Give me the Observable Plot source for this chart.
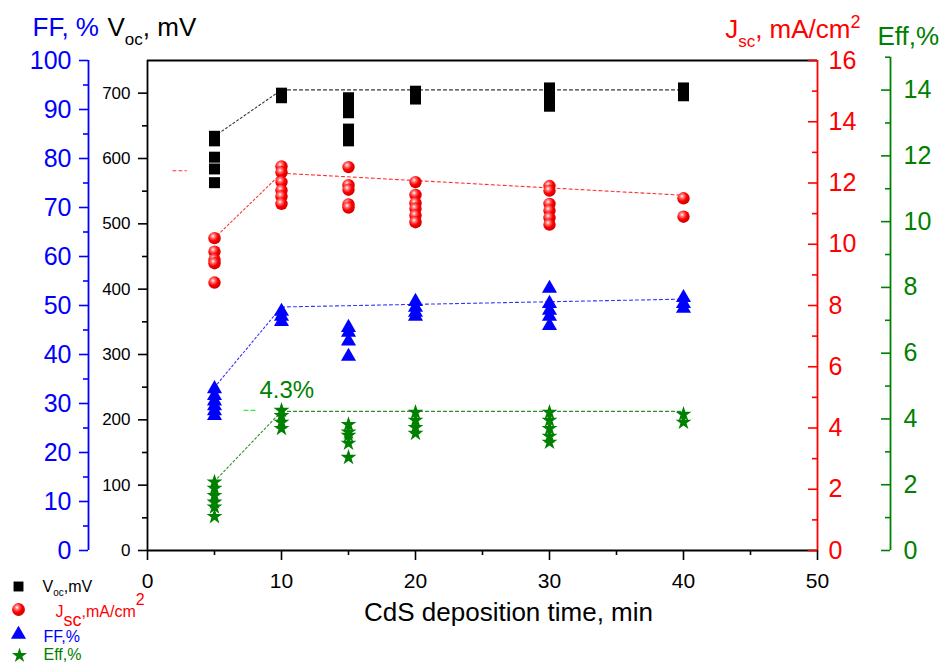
<!DOCTYPE html>
<html>
<head>
<meta charset="utf-8">
<script src="https://cdn.jsdelivr.net/npm/d3@7"></script>
<script src="https://cdn.jsdelivr.net/npm/@observablehq/plot@0.6"></script>
<style>
  html, body { margin: 0; padding: 0; background: #fff; }
  #chart svg { display: block; }
</style>
</head>
<body>
<div id="chart"></div>
<script>
// ---------------- data ----------------
const times = [5, 10, 15, 20, 30, 40];
const vocByTime = [
  [634, 627, 602, 584, 563],
  [700, 696, 693],
  [693, 686, 678, 670, 645, 636, 627],
  [703, 697, 691],
  [708, 703, 697, 690, 680],
  [708, 701, 696]
];
const jscByTime = [
  [10.2, 9.76, 9.5, 9.38, 8.75],
  [12.54, 12.35, 12.03, 11.76, 11.56, 11.32],
  [12.52, 11.93, 11.78, 11.3, 11.2],
  [12.03, 11.61, 11.34, 11.16, 10.94, 10.72],
  [11.9, 11.75, 11.32, 11.1, 10.86, 10.64],
  [11.5, 10.9]
];
const ffByTime = [
  [33, 31.6, 30.5, 29.5, 28.5, 27.5],
  [48.8, 47.8, 46.7],
  [45.5, 44.5, 42.7, 39.6],
  [50.8, 49.6, 48.6, 47.8],
  [53.5, 50.4, 49, 47.8, 45.9],
  [51.6, 50.4, 49.4]
];
const effByTime = [
  [2.08, 1.89, 1.67, 1.47, 1.32, 1.03],
  [4.26, 4.1, 3.9, 3.71],
  [3.83, 3.6, 3.5, 3.26, 2.83],
  [4.2, 3.96, 3.74, 3.56],
  [4.2, 3.96, 3.71, 3.47, 3.29],
  [4.14, 3.9]
];
const trendTimes = [5, 10, 40];
const vocTrend = [634, 705, 705];
const jscTrend = [10.2, 12.32, 11.6];
const ffTrend = [33.3, 49.7, 51.3];
const effTrend = [2.1, 4.23, 4.23];
const jscStub = [[1.9, 12.4], [2.9, 12.4]];
const effStub = [[7.2, 4.26], [8.1, 4.26]];

const xTicks = [0, 10, 20, 30, 40, 50];
const xMinor = [5, 15, 25, 35, 45];
const vocTicks = [0, 100, 200, 300, 400, 500, 600, 700];
const vocMinor = [50, 150, 250, 350, 450, 550, 650];
const ffTicks = [0, 10, 20, 30, 40, 50, 60, 70, 80, 90, 100];
const ffMinor = [5, 15, 25, 35, 45, 55, 65, 75, 85, 95];
const jscTicks = [0, 2, 4, 6, 8, 10, 12, 14, 16];
const jscMinor = [1, 3, 5, 7, 9, 11, 13, 15];
const effTicks = [0, 2, 4, 6, 8, 10, 12, 14];
const effMinor = [1, 3, 5, 7, 9, 11, 13, 15];

const X_MAX = 50, VOC_MAX = 750, FF_MAX = 100, JSC_MAX = 16, EFF_MAX = 14.9;
const kFF = VOC_MAX / FF_MAX, kJ = VOC_MAX / JSC_MAX, kE = VOC_MAX / EFF_MAX;

const BLUE = "#0000ff", RED = "#ff0000", GREEN = "#008000", BLACK = "#000";

const flat = (groups) => groups.flatMap((vals, i) => vals.map(v => ({t: times[i], v})));
const trend = (vals) => vals.map((v, i) => ({t: trendTimes[i], v}));
const vocPts = flat(vocByTime), jscPts = flat(jscByTime), ffPts = flat(ffByTime), effPts = flat(effByTime);
const effMaxPt = effPts.reduce((a, b) => (b.v > a.v ? b : a));

// ---------------- axis helpers ----------------
function vAxis({xv, dx, color, k, ticks, minor, top, dir, labelDx, anchor, fontSize}) {
  const len = 9, mlen = 5;
  const ins = (l) => dir < 0 ? {insetLeft: -l} : {insetRight: -l};
  return [
    Plot.ruleX([xv], {y1: 0, y2: top * k, dx, stroke: color, strokeWidth: 1.8}),
    Plot.ruleY(ticks, {y: d => d * k, x1: xv, x2: xv, dx, stroke: color, strokeWidth: 1.6, ...ins(len)}),
    Plot.ruleY(minor, {y: d => d * k, x1: xv, x2: xv, dx, stroke: color, strokeWidth: 1.6, ...ins(mlen)}),
    Plot.text(ticks, {y: d => d * k, x: xv, text: d => String(d), dx: dx + labelDx, textAnchor: anchor,
      lineAnchor: "middle", fill: color, fontSize})
  ];
}

const dashLine = (data, k, color, dash) =>
  Plot.line(data, {x: "t", y: d => d.v * k, stroke: color, strokeWidth: 1.1, strokeDasharray: dash});

const chart = Plot.plot({
  width: 941,
  height: 662,
  marginLeft: 147,
  marginRight: 124,
  marginTop: 60,
  marginBottom: 112,
  x: {domain: [0, X_MAX], axis: null},
  y: {domain: [0, VOC_MAX], axis: null},
  style: {fontFamily: "'Liberation Sans', Arial, sans-serif", fontSize: "16px", background: "#fff", color: "#000", overflow: "visible"},
  marks: [
    // frame top & bottom
    Plot.ruleY([VOC_MAX], {stroke: BLACK, strokeWidth: 1.8}),
    Plot.ruleY([0], {stroke: BLACK, strokeWidth: 1.8}),
    // x axis ticks & labels
    Plot.ruleX(xTicks, {x: d => d, y1: 0, y2: 0, insetBottom: -10, stroke: BLACK, strokeWidth: 1.6}),
    Plot.ruleX(xMinor, {x: d => d, y1: 0, y2: 0, insetBottom: -5, stroke: BLACK, strokeWidth: 1.6}),
    Plot.text(xTicks, {x: d => d, y: 0, text: d => String(d), dy: 31, lineAnchor: "middle", fontSize: 21, fill: BLACK}),
    Plot.text(["CdS deposition time, min"], {frameAnchor: "bottom", dx: 26, dy: 70, lineAnchor: "bottom", fontSize: 26, fill: BLACK}),
    // Voc axis (left, black)
    ...vAxis({xv: 0, dx: 0, color: BLACK, k: 1, ticks: vocTicks, minor: vocMinor, top: VOC_MAX, dir: -1, labelDx: -17, anchor: "end", fontSize: 17}),
    // FF axis (outer left, blue)
    ...vAxis({xv: 0, dx: -59, color: BLUE, k: kFF, ticks: ffTicks, minor: ffMinor, top: FF_MAX, dir: -1, labelDx: -17, anchor: "end", fontSize: 25}),
    // Jsc axis (right, red), inward ticks
    ...vAxis({xv: X_MAX, dx: 0, color: RED, k: kJ, ticks: jscTicks, minor: jscMinor, top: JSC_MAX, dir: -1, labelDx: 11, anchor: "start", fontSize: 25}),
    // Eff axis (outer right, green), inward ticks
    ...vAxis({xv: X_MAX, dx: 73, color: GREEN, k: kE, ticks: effTicks, minor: effMinor, top: 15, dir: -1, labelDx: 13, anchor: "start", fontSize: 25}),

    // trend lines
    dashLine(trend(vocTrend).slice(0, 2), 1, "#333", "2,2.5"),
    dashLine(trend(vocTrend).slice(1), 1, "#333", "3,3"),
    dashLine(trend(jscTrend).slice(0, 2), kJ, "#ff3030", "2,2.5"),
    dashLine(trend(jscTrend).slice(1), kJ, "#ff3030", "3,3"),
    dashLine(trend(ffTrend).slice(0, 2), kFF, "#3333ff", "2,2.5"),
    dashLine(trend(ffTrend).slice(1), kFF, "#3333ff", "3,3"),
    dashLine(trend(effTrend).slice(0, 2), kE, "#2e8b2e", "2,2.5"),
    dashLine(trend(effTrend).slice(1), kE, "#2e8b2e", "3,3"),
    Plot.line(jscStub, {x: d => d[0], y: d => d[1] * kJ, stroke: "#ff3030", strokeWidth: 1.1, strokeDasharray: "3,3"}),
    Plot.line(effStub, {x: d => d[0], y: d => d[1] * kE, stroke: "#33ee33", strokeWidth: 1.1, strokeDasharray: "4,3"}),

    // data points
    Plot.dot(vocPts, {x: "t", y: "v", symbol: "square", r: 6.2, fill: BLACK}),
    Plot.dot(jscPts, {x: "t", y: d => d.v * kJ, symbol: "circle", r: 6.2, fill: RED, className: "jsc-ball"}),
    Plot.dot(ffPts, {x: "t", y: d => d.v * kFF, symbol: "triangle", r: 5.6, fill: BLUE}),
    Plot.dot(effPts, {x: "t", y: d => d.v * kE, symbol: "star", r: 5, fill: GREEN}),

    // max efficiency annotation
    Plot.text([effMaxPt], {x: "t", y: d => d.v * kE, text: d => d3.format(".1f")(d.v) + "%", dx: -22, dy: -12,
      textAnchor: "start", lineAnchor: "bottom", fill: GREEN, fontSize: 24}),

    // top axis titles
    Plot.text(["FF, %"], {frameAnchor: "top-left", dx: -115, dy: -25, textAnchor: "start", lineAnchor: "bottom", fill: BLUE, fontSize: 26}),
    Plot.text(["V_{oc}, mV"], {frameAnchor: "top-left", dx: -40, dy: -25, textAnchor: "start", lineAnchor: "bottom", fill: BLACK, fontSize: 26, className: "rt-top"}),
    Plot.text(["J_{sc}, mA/cm^{2}"], {frameAnchor: "top-right", dx: 43, dy: -23, textAnchor: "end", lineAnchor: "bottom", fill: RED, fontSize: 26, className: "rt-top"}),
    Plot.text(["Eff,%"], {frameAnchor: "top-right", dx: 60, dy: -16, textAnchor: "start", lineAnchor: "bottom", fill: GREEN, fontSize: 26}),

    // legend (bottom-left)
    Plot.dot([0], {frameAnchor: "bottom-left", dx: -129, dy: 36, symbol: "square", r: 5.6, fill: BLACK}),
    Plot.dot([0], {frameAnchor: "bottom-left", dx: -129, dy: 59, symbol: "circle", r: 6.4, fill: RED, className: "jsc-ball"}),
    Plot.dot([0], {frameAnchor: "bottom-left", dx: -129, dy: 84, symbol: "triangle", r: 5.6, fill: BLUE}),
    Plot.dot([0], {frameAnchor: "bottom-left", dx: -128, dy: 105, symbol: "star", r: 4.8, fill: GREEN}),
    Plot.text(["V_{oc},mV"], {frameAnchor: "bottom-left", dx: -105, dy: 41, textAnchor: "start", lineAnchor: "bottom", fill: BLACK, fontSize: 16, className: "rt-leg"}),
    Plot.text(["J_{sc},mA/cm^{2}"], {frameAnchor: "bottom-left", dx: -92, dy: 66, textAnchor: "start", lineAnchor: "bottom", fill: RED, fontSize: 16, className: "rt-legj"}),
    Plot.text(["FF,%"], {frameAnchor: "bottom-left", dx: -104, dy: 91, textAnchor: "start", lineAnchor: "bottom", fill: BLUE, fontSize: 16}),
    Plot.text(["Eff,%"], {frameAnchor: "bottom-left", dx: -104, dy: 109, textAnchor: "start", lineAnchor: "bottom", fill: GREEN, fontSize: 16})
  ]
});

document.getElementById("chart").appendChild(chart);

// ---------- post-processing: gradient balls and sub/superscripts ----------
const svg = d3.select(chart);
svg.insert("defs", ":first-child").html(
  '<radialGradient id="ball" cx="0.38" cy="0.34" r="0.7">' +
  '<stop offset="0" stop-color="#ffffff"/>' +
  '<stop offset="0.22" stop-color="#ff7a7a"/>' +
  '<stop offset="0.55" stop-color="#ff0000"/>' +
  '<stop offset="1" stop-color="#c80000"/>' +
  '</radialGradient>'
);
svg.selectAll("g.jsc-ball").attr("fill", "url(#ball)");
svg.selectAll("g.jsc-ball circle, g.jsc-ball path").attr("fill", "url(#ball)");

const richOpts = {
  "rt-top": {sub: 9, subSize: 17, sup: -10, supSize: 18},
  "rt-leg": {sub: 4, subSize: 10, sup: -7, supSize: 11},
  "rt-legj": {sub: 9, subSize: 18, sup: -12, supSize: 16}
};
function rich(el, opt) {
  const markup = el.textContent;
  const sel = d3.select(el);
  sel.text(null);
  const re = /([_^])\{([^}]*)\}/g;
  let last = 0, m, shift = 0;
  const add = (s, kind) => {
    const ts = sel.append("tspan").text(s);
    const target = kind === "_" ? opt.sub : kind === "^" ? opt.sup : 0;
    const dy = target - shift;
    if (dy) ts.attr("dy", dy);
    shift = target;
    if (kind) ts.attr("font-size", kind === "_" ? opt.subSize : opt.supSize);
  };
  while ((m = re.exec(markup))) {
    if (m.index > last) add(markup.slice(last, m.index), null);
    add(m[2], m[1]);
    last = re.lastIndex;
  }
  if (last < markup.length) add(markup.slice(last), null);
}
Object.entries(richOpts).forEach(([cls, opt]) => {
  svg.selectAll("g." + cls + " text").each(function() { rich(this, opt); });
});
</script>
</body>
</html>
